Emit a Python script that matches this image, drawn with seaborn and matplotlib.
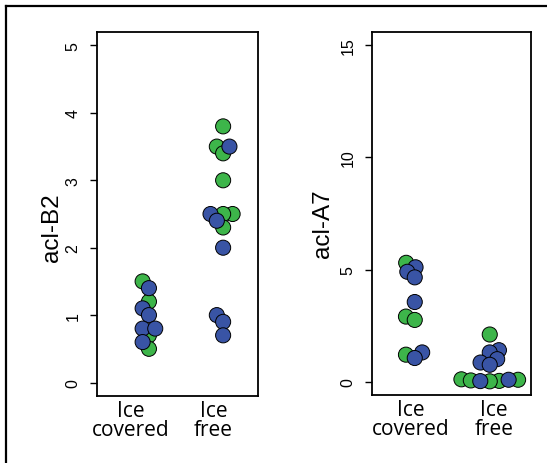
import numpy as np
import pandas as pd
import matplotlib
matplotlib.use("Agg")
import matplotlib.pyplot as plt
import seaborn as sns
from matplotlib.lines import Line2D

plt.rcParams["font.family"] = ["Liberation Sans", "DejaVu Sans"]

# ---- data ----
categories = ["Ice covered", "Ice free"]
tick_labels = ["Ice\ncovered", "Ice\nfree"]
groups = ["green", "blue"]

# acl-B2
b2_covered_green = [1.5, 1.2, 0.7, 0.5]
b2_covered_blue = [1.4, 1.1, 1.0, 0.8, 0.8, 0.6]
b2_free_green = [3.8, 3.5, 3.4, 3.0, 2.5, 2.5, 2.3]
b2_free_blue = [3.5, 2.5, 2.4, 2.0, 1.0, 0.9, 0.7]

# acl-A7
a7_covered_green = [5.3, 2.9, 2.75, 1.2]
a7_covered_blue = [5.1, 4.9, 4.65, 3.55, 1.3, 1.05]
a7_free_green = [2.1, 0.1, 0.08, 0.05, 0.03, 0.01]
a7_free_blue = [1.4, 1.3, 1.0, 0.85, 0.75, 0.08, 0.02]

palette = {"green": "#3DB54A", "blue": "#3954A5"}


def build(cov_g, cov_b, free_g, free_b):
    rows = []
    for cat, g, b in [(categories[0], cov_g, cov_b), (categories[1], free_g, free_b)]:
        for v in g:
            rows.append((cat, v, "green"))
        for v in b:
            rows.append((cat, v, "blue"))
    return pd.DataFrame(rows, columns=["site", "value", "group"])


df_b2 = build(b2_covered_green, b2_covered_blue, b2_free_green, b2_free_blue)
df_a7 = build(a7_covered_green, a7_covered_blue, a7_free_green, a7_free_blue)

W, H = 547, 464
fig = plt.figure(figsize=(W / 100, H / 100), dpi=100)
ax1 = fig.add_axes([97 / W, (H - 397) / H, 161 / W, 364 / H])
ax2 = fig.add_axes([372 / W, (H - 396) / H, 159 / W, 363 / H])

panels = [
    (ax1, df_b2, "acl-B2", (-0.70, 1.47), (-0.2, 5.2), [0, 1, 2, 3, 4, 5],
     [-0.247, 0.873], (-0.282, 0.464)),
    (ax2, df_a7, "acl-A7", (-0.57, 1.55), (-0.6, 15.6), [0, 5, 10, 15],
     [-0.048, 1.06], (-0.308, 0.475)),
]

for ax, df, ylab, xlim, ylim, yticks, xlabpos, labcoords in panels:
    sns.swarmplot(data=df, x="site", y="value", hue="group", order=categories,
                  hue_order=groups, palette=palette, size=5.8, linewidth=0.7,
                  edgecolor="black", legend=False, ax=ax)
    ax.set_xlim(*xlim)
    ax.set_ylim(*ylim)
    ax.set_yticks(yticks)
    ax.set_yticklabels([str(t) for t in yticks])
    ax.set_xticks(xlabpos)
    ax.set_xticklabels(tick_labels, fontfamily="Open Sans", fontsize=15,
                       linespacing=0.88)
    ax.tick_params(axis="x", length=0, pad=3)
    ax.tick_params(axis="y", length=5, width=1.0, pad=7, labelsize=11.5,
                   color="black", labelcolor="black")
    plt.setp(ax.get_yticklabels(), rotation=90, va="center", ha="right")
    for sp in ax.spines.values():
        sp.set_visible(True)
        sp.set_linewidth(1.3)
        sp.set_color("black")
    ax.set_xlabel("")
    ax.set_ylabel(ylab, fontsize=17.5)
    ax.yaxis.label.set_va("center")
    ax.yaxis.set_label_coords(*labcoords)
    ax.set_facecolor("white")

# outer frame (top and left edges visible)
fig.add_artist(Line2D([6 / W, 1.01], [1 - 7 / H, 1 - 7 / H],
                      transform=fig.transFigure, color="black", lw=1.6,
                      solid_capstyle="projecting"))
fig.add_artist(Line2D([6 / W, 6 / W], [-0.01, 1 - 7 / H],
                      transform=fig.transFigure, color="black", lw=1.6,
                      solid_capstyle="projecting"))

# compute the swarm layout with the compact spacing, then show larger markers
fig.canvas.draw()
for ax in (ax1, ax2):
    for coll in ax.collections:
        if "draw" in coll.__dict__:
            del coll.draw
        coll.set_sizes([118])

fig.savefig("out.png", dpi=100, facecolor="white")
